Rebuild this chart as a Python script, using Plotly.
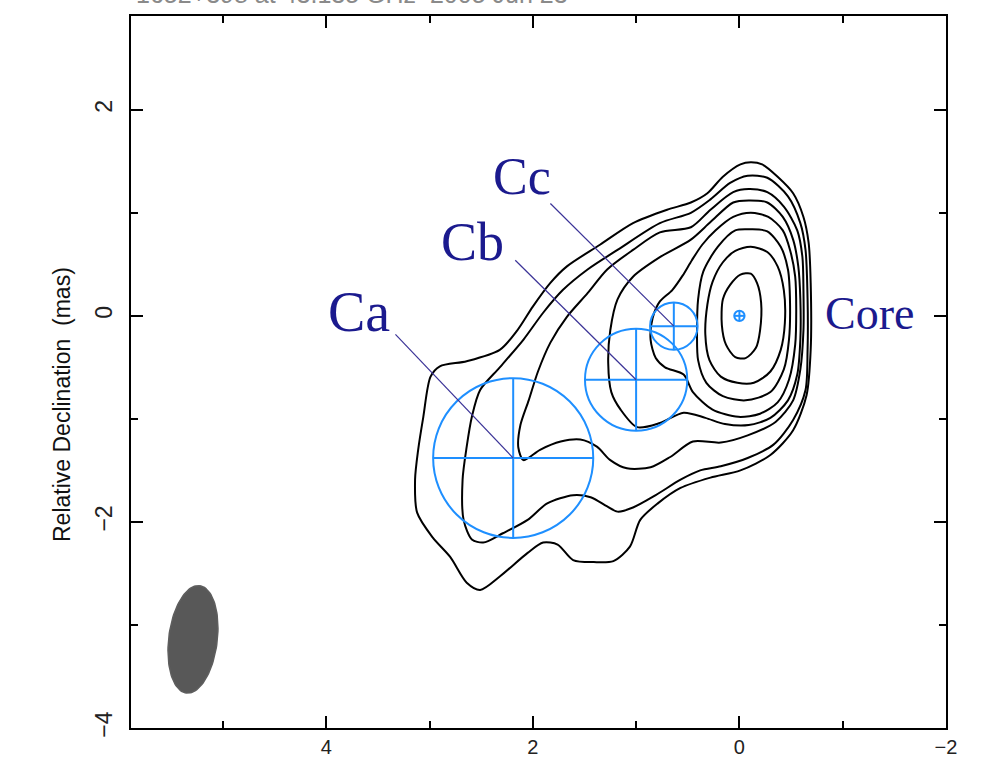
import numpy as np
import plotly.graph_objects as go

# ---------------- data (mas) ----------------
# contour lines, outermost (C1) to innermost (C8)
c1_x = [-0.11, -0.01, 0.16, 0.31, 0.47, 0.70, 1.03, 1.35, 1.67, 1.83, 2.00, 2.15, 2.32, 2.64, 2.90, 2.99,
        3.06, 3.11, 3.14, 3.12, 2.97, 2.80, 2.64, 2.51, 2.32, 2.05, 1.90, 1.76, 1.61, 1.41, 1.22, 1.06,
        0.96, 0.79, 0.57, 0.28, -0.01, -0.30, -0.52, -0.65, -0.69, -0.69, -0.67, -0.62, -0.52, -0.37, -0.22]
c1_y = [1.49, 1.47, 1.35, 1.19, 1.10, 1.03, 0.90, 0.69, 0.48, 0.32, 0.09, -0.14, -0.33, -0.44, -0.49, -0.59,
        -0.98, -1.30, -1.59, -1.91, -2.15, -2.34, -2.59, -2.66, -2.53, -2.30, -2.20, -2.22, -2.37, -2.39, -2.38, -2.24,
        -1.98, -1.82, -1.67, -1.57, -1.50, -1.35, -1.11, -0.77, -0.33, 0.32, 0.71, 0.96, 1.19, 1.35, 1.47]

c2_x = [-0.08, 0.09, 0.28, 0.47, 0.77, 1.18, 1.47, 1.71, 1.90, 2.09, 2.32, 2.51, 2.59, 2.64, 2.68, 2.67,
        2.59, 2.48, 2.29, 2.05, 1.86, 1.61, 1.44, 1.28, 1.18, 1.03, 0.81, 0.57, 0.38, 0.18, -0.08, -0.33,
        -0.52, -0.64, -0.66, -0.66, -0.64, -0.59, -0.47, -0.27]
c2_y = [1.36, 1.29, 1.13, 1.00, 0.90, 0.64, 0.45, 0.25, 0.03, -0.23, -0.50, -0.72, -0.98, -1.27, -1.59, -1.98,
        -2.17, -2.20, -2.11, -1.98, -1.82, -1.74, -1.76, -1.85, -1.90, -1.86, -1.74, -1.59, -1.50, -1.46, -1.38, -1.25,
        -1.01, -0.72, -0.33, 0.16, 0.64, 0.90, 1.16, 1.34]

c3_x = [-0.09, 0.06, 0.28, 0.47, 0.77, 1.03, 1.28, 1.47, 1.67, 1.83, 1.95, 2.04, 2.12, 2.14, 2.09, 1.93,
        1.73, 1.54, 1.38, 1.25, 1.09, 0.86, 0.67, 0.45, 0.18, -0.08, -0.35, -0.52, -0.59, -0.62, -0.62, -0.61,
        -0.56, -0.43, -0.27]
c3_y = [1.23, 1.20, 1.03, 0.86, 0.81, 0.64, 0.45, 0.22, -0.01, -0.26, -0.54, -0.82, -1.06, -1.28, -1.40, -1.30,
        -1.22, -1.20, -1.27, -1.40, -1.48, -1.47, -1.37, -1.22, -1.23, -1.16, -1.03, -0.82, -0.52, -0.14, 0.25, 0.57,
        0.83, 1.06, 1.20]

c4_x = [-0.09, 0.06, 0.28, 0.47, 0.77, 1.03, 1.18, 1.25, 1.27, 1.24, 1.15, 0.99, 0.77, 0.54, 0.33, 0.14,
        -0.09, -0.30, -0.47, -0.56, -0.59, -0.59, -0.57, -0.52, -0.42, -0.27]
c4_y = [1.12, 1.10, 0.91, 0.74, 0.57, 0.38, 0.16, -0.14, -0.46, -0.74, -0.91, -1.08, -1.04, -0.94, -0.99, -1.05,
        -1.06, -0.99, -0.82, -0.57, -0.23, 0.16, 0.48, 0.74, 0.96, 1.10]

c5_x = [-0.11, -0.28, -0.42, -0.49, -0.54, -0.55, -0.54, -0.48, -0.37, -0.20, 0.01, 0.26, 0.45, 0.54, 0.72, 0.81,
        0.86, 0.84, 0.77, 0.65, 0.55, 0.46, 0.36, 0.23, 0.06]
c5_y = [1.00, 0.96, 0.83, 0.64, 0.38, 0.06, -0.28, -0.62, -0.84, -0.95, -0.98, -0.91, -0.74, -0.57, -0.50, -0.41,
        -0.23, -0.02, 0.14, 0.25, 0.39, 0.54, 0.69, 0.83, 0.96]

c6_x = [-0.11, -0.27, -0.40, -0.47, -0.49, -0.48, -0.43, -0.30, -0.06, 0.16, 0.32, 0.40, 0.41, 0.40, 0.35, 0.21, 0.04]
c6_y = [0.84, 0.82, 0.67, 0.45, 0.13, -0.23, -0.52, -0.74, -0.82, -0.78, -0.65, -0.43, -0.14, 0.16, 0.43, 0.67, 0.83]

c7_x = [-0.11, -0.27, -0.37, -0.43, -0.44, -0.40, -0.30, -0.14, 0.02, 0.18, 0.29, 0.33, 0.31, 0.26, 0.16, 0.04]
c7_y = [0.67, 0.62, 0.48, 0.25, -0.07, -0.33, -0.54, -0.65, -0.65, -0.59, -0.43, -0.18, 0.11, 0.33, 0.52, 0.63]

c8_x = [-0.11, -0.17, -0.21, -0.20, -0.16, -0.06, 0.04, 0.13, 0.17, 0.16, 0.09, -0.01]
c8_y = [0.41, 0.32, 0.13, -0.14, -0.31, -0.41, -0.40, -0.28, -0.09, 0.16, 0.30, 0.40]

contours_x = [c1_x, c2_x, c3_x, c4_x, c5_x, c6_x, c7_x, c8_x]
contours_y = [c1_y, c2_y, c3_y, c4_y, c5_y, c6_y, c7_y, c8_y]

# model-fit components
comp_names = ["Core", "Ca", "Cb", "Cc"]
comp_x = [0.0, 2.19, 1.00, 0.635]
comp_y = [0.0, -1.38, -0.62, -0.10]
comp_size = [0.10, 1.55, 0.99, 0.46]
label_x = [-1.26, 3.68, 2.58, 2.10]
label_y = [0.02, 0.04, 0.72, 1.35]
label_size = [46, 56, 54, 52]
leader_x0 = [None, 3.33, 2.17, 1.83]
leader_y0 = [None, -0.18, 0.54, 1.09]

# restoring beam
beam_x, beam_y = 5.29, -3.14
beam_major, beam_minor, beam_pa_deg = 1.05, 0.47, -7.0

x_ticks = [4, 2, 0, -2]
y_ticks = [2, 0, -2, -4]

# ---------------- figure ----------------
fig = go.Figure()

for cx, cy in zip(contours_x, contours_y):
    fig.add_trace(go.Scatter(
        x=cx + [cx[0]], y=cy + [cy[0]], mode="lines",
        line=dict(color="black", width=2, shape="spline", smoothing=0.8),
        hoverinfo="skip", showlegend=False))

# beam ellipse
t = np.linspace(0, 2 * np.pi, 121)
pa = np.deg2rad(beam_pa_deg)
a, b = beam_major / 2, beam_minor / 2
ex = beam_x + a * np.cos(t) * np.sin(pa) + b * np.sin(t) * np.cos(pa)
ey = beam_y + a * np.cos(t) * np.cos(pa) - b * np.sin(t) * np.sin(pa)
fig.add_trace(go.Scatter(x=ex, y=ey, mode="lines", fill="toself",
                         fillcolor="#585858", line=dict(color="#5e5e5e", width=1.5),
                         hoverinfo="skip", showlegend=False))

blue = "#1e8fff"
lead = "#3b3397"
shapes = []
annotations = []
for name, x, y, d, lx, ly, fs, x0, y0 in zip(comp_names, comp_x, comp_y, comp_size,
                                             label_x, label_y, label_size, leader_x0, leader_y0):
    r = d / 2
    shapes.append(dict(type="circle", xref="x", yref="y", x0=x - r, x1=x + r, y0=y - r, y1=y + r,
                       line=dict(color=blue, width=2)))
    shapes.append(dict(type="line", xref="x", yref="y", x0=x - r, x1=x + r, y0=y, y1=y,
                       line=dict(color=blue, width=2)))
    shapes.append(dict(type="line", xref="x", yref="y", x0=x, x1=x, y0=y - r, y1=y + r,
                       line=dict(color=blue, width=2)))
    if x0 is not None:
        shapes.append(dict(type="line", xref="x", yref="y", x0=x0, y0=y0, x1=x, y1=y,
                           line=dict(color=lead, width=1.2)))
    annotations.append(dict(x=lx, y=ly, xref="x", yref="y", text=name, showarrow=False,
                            font=dict(family="Liberation Serif", size=fs, color="#1b1a8e"),
                            xanchor="center", yanchor="middle"))

annotations.append(dict(x=-0.0847, y=0.455, xref="paper", yref="paper",
                        text="Relative Declination  (mas)", textangle=-90, showarrow=False,
                        font=dict(family="Liberation Sans", size=23, color="#111"),
                        xanchor="center", yanchor="middle"))
annotations.append(dict(x=0.004, y=1.009, xref="paper", yref="paper",
                        text="1652+398 at 43.135 GHz  2005 Jun 23", showarrow=False,
                        font=dict(family="Liberation Sans", size=25, color="#8a8a8a"),
                        xanchor="left", yanchor="bottom"))

axis_common = dict(showgrid=False, zeroline=False, showline=True, linecolor="black", linewidth=2,
                   mirror="ticks", ticks="inside", ticklen=12, tickwidth=1.5, tickcolor="black",
                   automargin=False,
                   minor=dict(dtick=1, ticks="inside", ticklen=7, tickwidth=1.5, tickcolor="black"))

fig.update_layout(
    width=983, height=759,
    margin=dict(l=131, r=37, t=16, b=31),
    paper_bgcolor="white", plot_bgcolor="white",
    shapes=shapes, annotations=annotations,
    xaxis=dict(range=[5.89, -2.0], tickvals=x_ticks, ticktext=["4", "2", "0", "\u22122"],
               tickfont=dict(family="Liberation Sans", size=20, color="#222"),
               ticklabelstandoff=0, **axis_common),
    yaxis=dict(range=[-4.0, 2.91], tickvals=y_ticks, ticktext=["2", "0", "\u22122", "\u22124"],
               tickfont=dict(family="Liberation Sans", size=23, color="#222"),
               tickangle=-90, ticklabelstandoff=8, **axis_common),
)

fig.write_html("out.html")
